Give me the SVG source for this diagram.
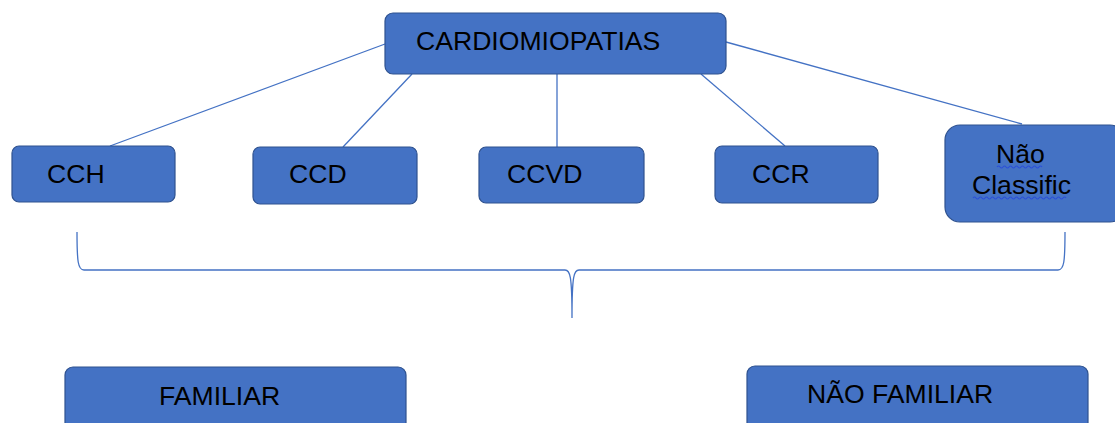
<svg xmlns="http://www.w3.org/2000/svg" width="1115" height="423" viewBox="0 0 1115 423">
<style>
.box{fill:#4472C4;stroke:#2F528F;stroke-width:1.2}
.lbl{font-family:"Liberation Sans",Arial,sans-serif;font-size:26.6px;fill:#000}
.con{stroke:#4472C4;stroke-width:1.3;fill:none}
.sq{stroke:#2B4FD8;stroke-width:1.1;fill:none}
</style>
<rect width="1115" height="423" fill="#fff"/>
<g id="connectors">
<line class="con" x1="385" y1="44" x2="110" y2="146"/>
<line class="con" x1="412" y1="74" x2="343" y2="147"/>
<line class="con" x1="557" y1="74" x2="557" y2="147"/>
<line class="con" x1="701" y1="74" x2="785" y2="146"/>
<line class="con" x1="726" y1="42" x2="1022" y2="124"/>
<path class="con" stroke-width="1.6" d="M77,232 C77,262 78,270 84,270 L565,270 C570,270 572,275 572,318 C572,275 574,270 579,270 L1058,270 C1064,270 1065,262 1065,232"/>
</g>
<g id="cardiomiopatias">
<rect class="box" x="385" y="13" width="341" height="61" rx="8"/>
<text class="lbl" x="416" y="50">CARDIOMIOPATIAS</text>
</g>
<g id="cch">
<rect class="box" x="12" y="146" width="163" height="56" rx="7"/>
<text class="lbl" x="47" y="183">CCH</text>
</g>
<g id="ccd">
<rect class="box" x="253" y="147" width="164" height="57" rx="7"/>
<text class="lbl" x="289" y="183">CCD</text>
</g>
<g id="ccvd">
<rect class="box" x="479" y="147" width="165" height="56" rx="7"/>
<text class="lbl" x="507" y="183">CCVD</text>
</g>
<g id="ccr">
<rect class="box" x="715" y="146" width="163" height="57" rx="7"/>
<text class="lbl" x="752" y="183">CCR</text>
</g>
<g id="nao-classific">
<rect class="box" x="945" y="125" width="180" height="97" rx="15"/>
<text class="lbl" x="996" y="163">Não</text>
<text class="lbl" x="972" y="194">Classific</text>
<path class="sq" d="M997,167 q1.5,-2 3,0 t3,0 t3,0 t3,0 t3,0 t3,0 t3,0 t3,0 t3,0 t3,0 t3,0 t3,0 t3,0 t3,0 t3,0"/>
<path class="sq" d="M973,198 q1.5,-2 3,0 t3,0 t3,0 t3,0 t3,0 t3,0 t3,0 t3,0 t3,0 t3,0 t3,0 t3,0 t3,0 t3,0 t3,0 t3,0 t3,0 t3,0 t3,0 t3,0 t3,0 t3,0 t3,0 t3,0 t3,0 t3,0 t3,0 t3,0 t3,0 t3,0 t3,0"/>
</g>
<g id="familiar">
<rect class="box" x="65" y="367" width="341" height="70" rx="8"/>
<text class="lbl" x="159" y="405">FAMILIAR</text>
</g>
<g id="nao-familiar">
<rect class="box" x="747" y="366" width="341" height="70" rx="8"/>
<text class="lbl" x="807" y="403">NÃO FAMILIAR</text>
</g>
</svg>
